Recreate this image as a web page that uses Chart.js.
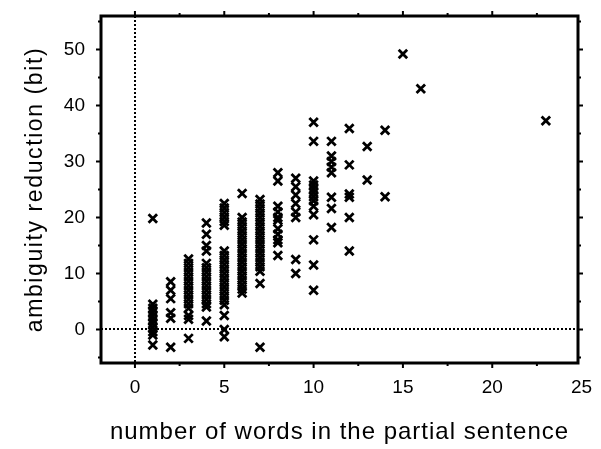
<!DOCTYPE html>
<html>
<head>
<meta charset="utf-8">
<script src="https://cdn.jsdelivr.net/npm/chart.js@4.4.1/dist/chart.umd.min.js"></script>
<style>
html, body { margin: 0; padding: 0; background: #fff; }
</style>
</head>
<body>
<canvas id="ambiguityChart" width="601" height="449"></canvas>
<script>
// number of words in the partial sentence
const wordCounts = [1, 2, 3, 4, 5, 6, 7, 8, 9, 10, 11, 12, 13, 14, 15, 16, 23];

// ambiguity reduction (bit) for each word count
const reductionBits = [
    [19.8, 4.5, 3.8, 3.1, 2.4, 1.7, 1, 0.3, -0.4, -1, -2.8],
    [8.5, 7, 5.5, 3, 2, -3.2],
    [12.6, 11.8, 11, 10.2, 9.4, 8.6, 7.8, 7, 6.2, 5.4, 4.6, 3.8, 2.5, 1.8, -1.6],
    [19, 17, 15, 14, 11.8, 11, 10.2, 9.4, 8.6, 7.8, 7, 6.2, 5.4, 4.6, 4, 1.5],
    [22.5, 21.7, 20.9, 20.1, 19.3, 18.6, 14, 13.2, 12.4, 11.6, 10.8, 10, 9.2, 8.4, 7.6, 6.8, 6, 5.2, 4.4, 2.5, 0, -1.3],
    [24.3, 20, 19.2, 18.4, 17.6, 16.8, 16, 15.2, 14.4, 13.6, 12.8, 12, 11.2, 10.4, 9.6, 8.8, 8, 7.2, 6.5],
    [23.2, 22.4, 21.6, 20.8, 20, 19.2, 18.4, 17.6, 16.8, 16, 15.2, 14.4, 13.6, 12.8, 12, 11.2, 10.4, 8.2, -3.2],
    [28, 26.5, 22, 21, 20, 19.5, 18, 17, 16, 15.5, 13.2],
    [27, 25.5, 24, 22.5, 21, 20, 12.5, 10],
    [37, 33.6, 26.5, 25.8, 25.1, 24.4, 23.7, 23, 22, 20.5, 16, 11.5, 7],
    [33.6, 31, 30, 29, 28, 23.6, 21.6, 18.2],
    [35.9, 29.4, 24.2, 23.6, 20, 14],
    [32.7, 26.7],
    [35.6, 23.7],
    [49.2],
    [43],
    [37.3]
];

const xTicks = [0, 5, 10, 15, 20, 25];
const yTicks = [0, 10, 20, 30, 40, 50];

const xTitle = "number of words in the partial sentence";
const yTitle = "ambiguity reduction (bit)";

const points = [];
wordCounts.forEach((n, i) => {
    reductionBits[i].forEach(bits => points.push({x: n, y: bits}));
});

// frame, outward tick marks, dotted zero lines and spaced-out axis titles
const framePlugin = {
    id: "frame",
    beforeDatasetsDraw(chart) {
        const {ctx, chartArea: a, scales: {x, y}} = chart;
        ctx.save();
        ctx.strokeStyle = "#000";
        ctx.lineWidth = 2;
        ctx.setLineDash([2, 2]);
        const x0 = Math.round(x.getPixelForValue(0));
        const y0 = Math.round(y.getPixelForValue(0));
        ctx.beginPath();
        ctx.moveTo(x0, a.top);
        ctx.lineTo(x0, a.bottom);
        ctx.moveTo(a.left, y0);
        ctx.lineTo(a.right, y0);
        ctx.stroke();
        ctx.restore();
    },
    afterDraw(chart) {
        const {ctx, chartArea: a, scales: {x, y}} = chart;
        ctx.save();
        ctx.strokeStyle = "#000";
        ctx.lineWidth = 3;
        ctx.strokeRect(a.left, a.top, a.right - a.left, a.bottom - a.top);
        ctx.lineWidth = 2;
        ctx.beginPath();
        for (let v = 0; v <= x.max; v += 2.5) {
            const px = x.getPixelForValue(v);
            const len = v % 5 === 0 ? 5 : 3;
            ctx.moveTo(px, a.bottom);
            ctx.lineTo(px, a.bottom + len);
            ctx.moveTo(px, a.top);
            ctx.lineTo(px, a.top - len);
        }
        for (let v = -5; v <= y.max; v += 5) {
            const py = y.getPixelForValue(v);
            const len = v % 10 === 0 ? 5 : 3;
            ctx.moveTo(a.left, py);
            ctx.lineTo(a.left - len, py);
            ctx.moveTo(a.right, py);
            ctx.lineTo(a.right + len, py);
        }
        ctx.stroke();

        // axis titles
        ctx.fillStyle = "#000";
        ctx.textAlign = "center";
        ctx.textBaseline = "alphabetic";
        ctx.font = "24px 'Liberation Sans'";
        ctx.letterSpacing = "1px";
        ctx.fillText(xTitle, (a.left + a.right) / 2, 439);
        ctx.font = "23px 'Liberation Sans'";
        ctx.letterSpacing = "1.6px";
        ctx.translate(42, (a.top + a.bottom) / 2);
        ctx.rotate(-Math.PI / 2);
        ctx.fillText(yTitle, 0, 0);
        ctx.restore();
    }
};

const scatterConfig = {
    type: "scatter",
    data: {
        datasets: [{
            label: "ambiguity reduction",
            data: points,
            pointStyle: "crossRot",
            pointRadius: 6,
            borderWidth: 2.8,
            borderColor: "#000",
            backgroundColor: "#000"
        }]
    },
    options: {
        responsive: false,
        animation: false,
        layout: {padding: {top: 16, right: 23, left: 0, bottom: 0}},
        plugins: {legend: {display: false}, tooltip: {enabled: false}},
        scales: {
            x: {
                type: "linear",
                min: -1.9,
                max: 24.8,
                afterBuildTicks: scale => { scale.ticks = xTicks.map(v => ({value: v})); },
                afterFit: scale => {
                    scale.height = 86;
                    scale.paddingLeft = 0;
                    scale.paddingRight = 0;
                },
                grid: {display: false, drawTicks: false},
                border: {display: false},
                ticks: {color: "#000", padding: 13, font: {family: "Liberation Sans", size: 19}}
            },
            y: {
                type: "linear",
                min: -6,
                max: 56,
                afterBuildTicks: scale => { scale.ticks = yTicks.map(v => ({value: v})); },
                afterFit: scale => {
                    scale.width = 101;
                    scale.paddingTop = 0;
                    scale.paddingBottom = 0;
                },
                grid: {display: false, drawTicks: false},
                border: {display: false},
                ticks: {color: "#000", padding: 16, font: {family: "Liberation Sans", size: 19}}
            }
        }
    },
    plugins: [framePlugin]
};

const ambiguityChart = new Chart(document.getElementById("ambiguityChart"), scatterConfig);
</script>
</body>
</html>
